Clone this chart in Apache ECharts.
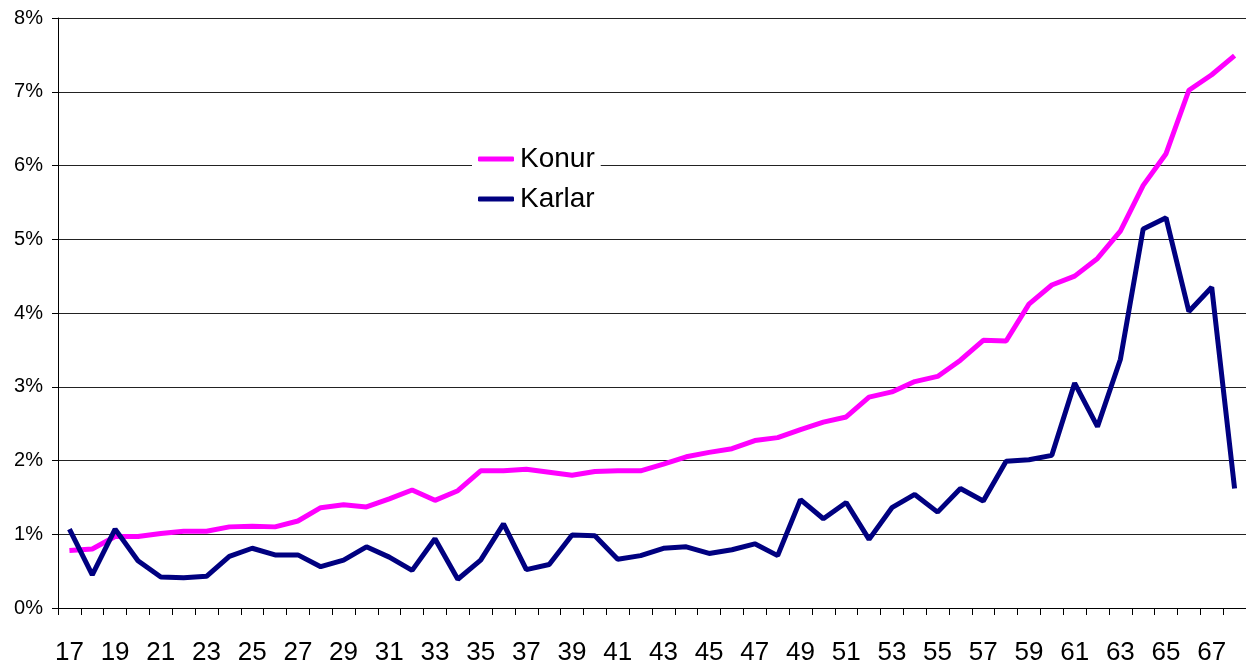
<!DOCTYPE html>
<html>
<head>
<meta charset="utf-8">
<script src="https://cdn.jsdelivr.net/npm/echarts@6/dist/echarts.min.js"></script>
<style>
  html, body { margin: 0; padding: 0; background: #fff; overflow: hidden; }
  #chart { width: 1246px; height: 666px; }
</style>
</head>
<body>
<div id="chart"></div>
<script>
// aldur 17..68
const ages = [];
for (let a = 17; a <= 68; a++) ages.push(String(a));

// hlutfall í %
const konur = [
  0.78, 0.80, 0.97, 0.97, 1.01, 1.04, 1.04, 1.10, 1.11, 1.10,
  1.18, 1.36, 1.40, 1.37, 1.48, 1.60, 1.46, 1.59, 1.86, 1.86,
  1.88, 1.84, 1.80, 1.85, 1.86, 1.86, 1.95, 2.05, 2.11, 2.16,
  2.27, 2.31, 2.42, 2.52, 2.59, 2.86, 2.93, 3.07, 3.14, 3.36,
  3.63, 3.62, 4.12, 4.38, 4.50, 4.74, 5.11, 5.73, 6.16, 7.02,
  7.23, 7.49
];
const karlar = [
  1.07, 0.45, 1.07, 0.64, 0.42, 0.41, 0.43, 0.70, 0.81, 0.72,
  0.72, 0.56, 0.65, 0.83, 0.69, 0.51, 0.94, 0.39, 0.65, 1.14,
  0.52, 0.59, 0.99, 0.98, 0.66, 0.71, 0.81, 0.83, 0.74, 0.79,
  0.87, 0.71, 1.47, 1.21, 1.43, 0.93, 1.36, 1.54, 1.30, 1.62,
  1.45, 1.99, 2.01, 2.07, 3.05, 2.46, 3.37, 5.14, 5.29, 4.02,
  4.35, 1.62
];

const font = 'Arial, "Liberation Sans", sans-serif';
const chart = echarts.init(document.getElementById('chart'));

const option = {
  backgroundColor: '#fff',
  animation: false,
  grid: { left: 58, width: 1194, top: 18, height: 594, containLabel: false },
  legend: {
    orient: 'vertical',
    left: 472,
    top: 141,
    icon: 'roundRect',
    itemWidth: 36,
    itemHeight: 5,
    itemGap: 12,
    padding: [4, 6, 2, 6],
    backgroundColor: '#fff',
    textStyle: { fontFamily: font, fontSize: 28, color: '#000', padding: [0, 0, 0, 1] },
    data: ['Konur', 'Karlar']
  },
  xAxis: {
    type: 'category',
    data: ages,
    boundaryGap: true,
    axisLine: { lineStyle: { color: '#000', width: 1 } },
    axisTick: { show: true, interval: 0, length: 7, lineStyle: { color: '#000' } },
    axisLabel: { interval: 1, margin: 32, fontFamily: font, fontSize: 26, color: '#000' },
    splitLine: { show: false }
  },
  yAxis: {
    type: 'value',
    min: 0,
    max: 8,
    interval: 1,
    axisLine: { show: true, lineStyle: { color: '#000', width: 1 } },
    axisTick: { show: true, length: 6, lineStyle: { color: '#000' } },
    axisLabel: { margin: 15, fontFamily: font, fontSize: 20, color: '#000', formatter: '{value}%' },
    splitLine: { show: true, lineStyle: { color: '#222', width: 1 } }
  },
  series: [
    {
      name: 'Konur',
      type: 'line',
      data: konur,
      symbol: 'none',
      color: '#ff00ff',
      lineStyle: { color: '#ff00ff', width: 5 }
    },
    {
      name: 'Karlar',
      type: 'line',
      data: karlar,
      symbol: 'none',
      color: '#000080',
      lineStyle: { color: '#000080', width: 5 }
    }
  ]
};

chart.setOption(option);
</script>
</body>
</html>
